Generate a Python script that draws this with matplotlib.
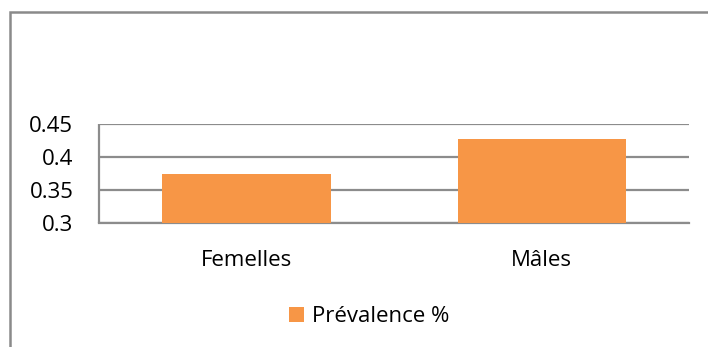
import matplotlib
matplotlib.use('Agg')
import matplotlib.pyplot as plt
from matplotlib.patches import Rectangle, Patch

categories = ['Femelles', 'Mâles']
prevalence = [0.374, 0.427]
series_name = 'Prévalence %'
y_ticks = [0.3, 0.35, 0.4, 0.45]
y_tick_labels = ['0.3', '0.35', '0.4', '0.45']

plt.rcParams['font.family'] = ['Open Sans', 'DejaVu Sans']

W, H = 708, 347
fig = plt.figure(figsize=(W / 100, H / 100), dpi=100)
ax = fig.add_axes([99 / W, 124.3 / H, 590.3 / W, 98.7 / H])

bar_color = '#F79646'
grid_color = '#8c8c8c'

ax.bar(range(len(categories)), prevalence, width=0.57, color=bar_color, zorder=3)
ax.set_xlim(-0.5, len(categories) - 0.5)
ax.set_ylim(0.3, 0.45)
ax.set_yticks(y_ticks)
ax.set_yticklabels(y_tick_labels)
ax.set_xticks(range(len(categories)))
ax.set_xticklabels(categories)
ax.tick_params(axis='y', length=0, pad=18.5, labelsize=16, colors='#000000')
ax.tick_params(axis='x', length=0, pad=19.5, labelsize=16, colors='#000000')

ax.yaxis.grid(True, color=grid_color, linewidth=1.6, zorder=0)
ax.set_axisbelow(True)
for side in ['top', 'right']:
    ax.spines[side].set_visible(False)
for side in ['left', 'bottom']:
    ax.spines[side].set_color(grid_color)
    ax.spines[side].set_linewidth(1.6)
ax.spines['left'].set_capstyle('butt')

# chart frame (cut off at the right and bottom)
fig.patches.append(Rectangle((9.5 / W, -0.1), 1.0, 1 - 12 / H + 0.1,
                             transform=fig.transFigure, fill=False,
                             edgecolor='#8a8a8a', linewidth=1.8))

handle = Patch(facecolor=bar_color, edgecolor='none')
fig.legend([handle], [series_name], loc='center',
           bbox_to_anchor=(369.5 / W, 1 - 316.5 / H), frameon=False,
           fontsize=16, handlelength=0.65, handleheight=0.65,
           handletextpad=0.4, borderpad=0)

fig.savefig('out.png', dpi=100)
